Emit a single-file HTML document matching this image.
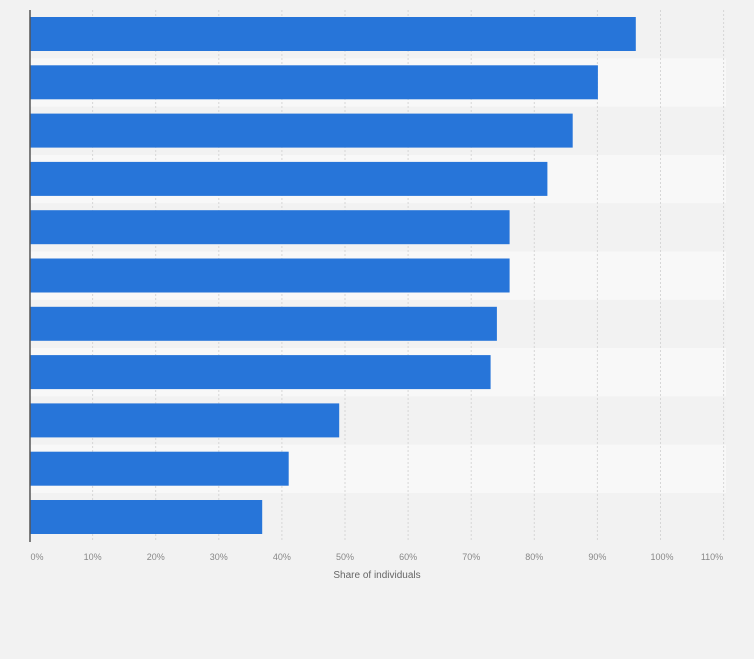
<!DOCTYPE html>
<html><head><meta charset="utf-8"><style>
body{margin:0;background:#f2f2f2;}
svg{display:block;font-family:"Liberation Sans",sans-serif;}
</style></head><body>
<svg width="754" height="659" xmlns="http://www.w3.org/2000/svg">
<rect width="754" height="659" fill="#f2f2f2"/>
<g fill="#f8f8f8">
<rect x="30" y="58.3" width="696" height="48.3"/>
<rect x="30" y="154.9" width="696" height="48.3"/>
<rect x="30" y="251.5" width="696" height="48.3"/>
<rect x="30" y="348.1" width="696" height="48.3"/>
<rect x="30" y="444.7" width="696" height="48.3"/>
</g>
<g stroke="#d6d6d6" stroke-width="1" stroke-dasharray="2,2">
<line x1="92.6" y1="10" x2="92.6" y2="542"/>
<line x1="155.7" y1="10" x2="155.7" y2="542"/>
<line x1="218.8" y1="10" x2="218.8" y2="542"/>
<line x1="281.9" y1="10" x2="281.9" y2="542"/>
<line x1="345" y1="10" x2="345" y2="542"/>
<line x1="408.1" y1="10" x2="408.1" y2="542"/>
<line x1="471.2" y1="10" x2="471.2" y2="542"/>
<line x1="534.3" y1="10" x2="534.3" y2="542"/>
<line x1="597.4" y1="10" x2="597.4" y2="542"/>
<line x1="660.5" y1="10" x2="660.5" y2="542"/>
<line x1="723.6" y1="10" x2="723.6" y2="542"/>
</g>
<g fill="#2775d9">
<rect x="30" y="17" width="605.8" height="34"/>
<rect x="30" y="65.3" width="567.9" height="34"/>
<rect x="30" y="113.6" width="542.7" height="34"/>
<rect x="30" y="161.9" width="517.4" height="34"/>
<rect x="30" y="210.2" width="479.6" height="34"/>
<rect x="30" y="258.5" width="479.6" height="34"/>
<rect x="30" y="306.8" width="466.9" height="34"/>
<rect x="30" y="355.1" width="460.6" height="34"/>
<rect x="30" y="403.4" width="309.2" height="34"/>
<rect x="30" y="451.7" width="258.7" height="34"/>
<rect x="30" y="500" width="232.2" height="34"/>
</g>
<line x1="30" y1="10" x2="30" y2="542" stroke="#555" stroke-width="1.5"/>
<g fill="#888" font-size="9" text-anchor="middle">
<text x="37" y="560">0%</text>
<text x="92.6" y="560">10%</text>
<text x="155.7" y="560">20%</text>
<text x="218.8" y="560">30%</text>
<text x="281.9" y="560">40%</text>
<text x="345" y="560">50%</text>
<text x="408.1" y="560">60%</text>
<text x="471.2" y="560">70%</text>
<text x="534.3" y="560">80%</text>
<text x="597.4" y="560">90%</text>
<text x="662" y="560">100%</text>
<text x="712" y="560">110%</text>
</g>
<text x="377" y="578" fill="#666" font-size="10" text-anchor="middle">Share of individuals</text>
</svg>
</body></html>
